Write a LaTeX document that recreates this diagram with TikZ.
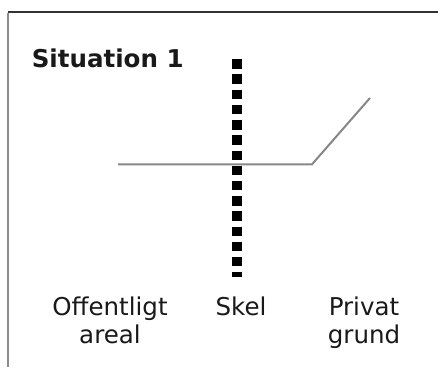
\documentclass[tikz,border=0pt]{standalone}
\usepackage{fontspec}
\setmainfont{DejaVu Sans}
\usepackage{tikz}
\usetikzlibrary{positioning, calc}

\begin{document}
\begin{tikzpicture}[x=0.75pt,y=-0.75pt,
    txt/.style={inner sep=0pt,anchor=base,align=center,font=\fontsize{18.4}{21}\selectfont,text=black!90},
    ground/.style={draw=black!47,line width=1.5pt},
    skel/.style={draw=black,line width=7pt,dash pattern=on 7.1pt off 4.3pt}]
      \useasboundingbox (0,0) rectangle (438,367);
      % ramme
      \draw[black!80!white,line width=1.5pt] (8,12)--(438,12);
      \draw[black!45,line width=1.5pt] (8,12.7)--(8,367);
      % terraen
      \coordinate (g1) at (118,164.3);
      \coordinate (g2) at (312,164.3);
      \coordinate (g3) at (370,98);
      \draw[ground] (g1)--(g2)--(g3);
      % skel
      \coordinate (s1) at (237,59.3);
      \coordinate (s2) at (237,276.7);
      \draw[skel] (s1)--(s2);
      \draw (31.5,68) node[txt,anchor=base west,font=\fontsize{18.4}{21}\selectfont\bfseries] (titel) {Situation 1};
      \draw (110,343) node[txt] (off) {Offentligt\\areal};
      \draw (241,315) node[txt] (skeltxt) {Skel};
      \draw (364,343) node[txt] (priv) {Privat\\grund};
\end{tikzpicture}
\end{document}
